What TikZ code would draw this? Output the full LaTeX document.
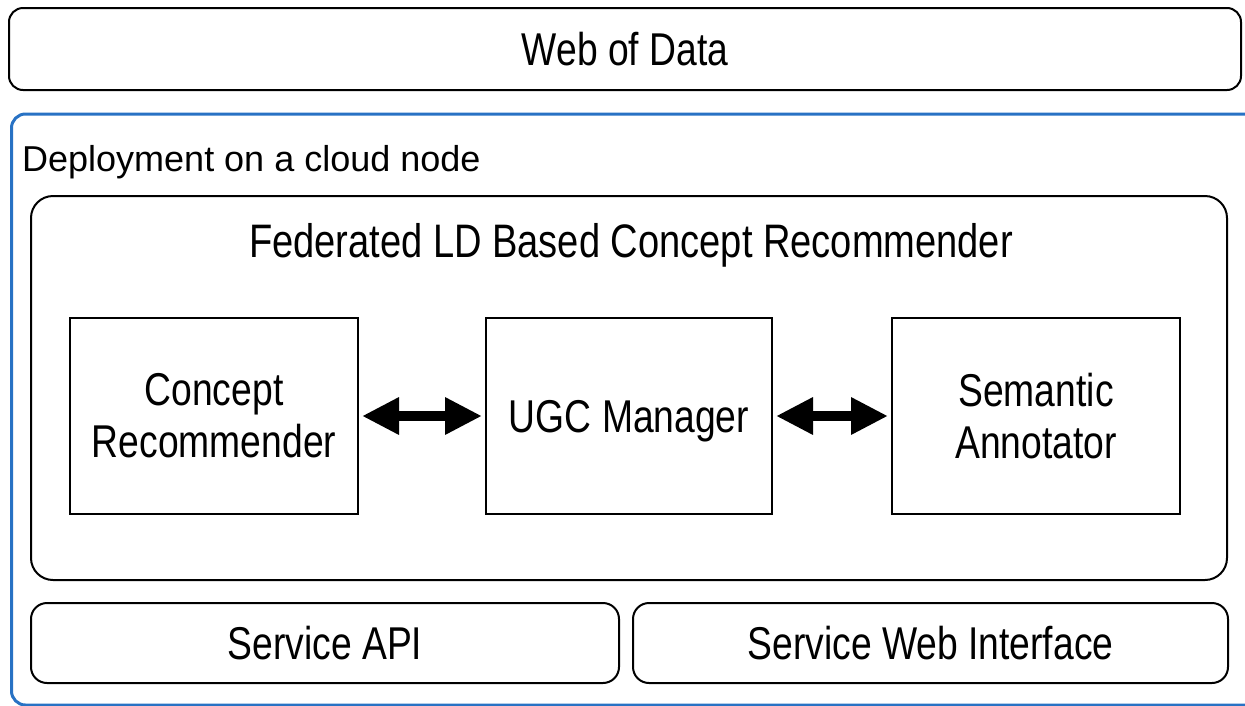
\documentclass[tikz,border=0pt]{standalone}
\usepackage{fontspec}
\setmainfont{Liberation Sans}
\newfontfamily\condfont[FakeStretch=0.81]{Liberation Sans}
\usetikzlibrary{arrows.meta}
\definecolor{cloudblue}{RGB}{40,114,196}
\begin{document}
\begin{tikzpicture}[x=1pt,y=-1pt,
  boxfont/.style={font=\condfont\fontsize{46}{52}\selectfont},
  plainbox/.style={draw=black, line width=2pt, inner sep=0pt, boxfont},
  oneline/.style={plainbox, text height=33pt, text depth=0pt},
  twoline/.style={plainbox, align=center},
  roundbox/.style={oneline, rounded corners=#1},
  cloudbox/.style={draw=cloudblue, line width=3pt, inner sep=0pt, outer sep=0pt, rounded corners=14pt},
  dblarrow/.style={line width=10pt, shorten >=3pt, shorten <=3pt,
    {Triangle[length=37pt,width=35pt]}-{Triangle[length=37pt,width=35pt]}}
]
\useasboundingbox (0,0) rectangle (1245,705);
\clip (0,0) rectangle (1245,705);

\node[roundbox=14pt, minimum width=1232pt, minimum height=82pt] (web) at (625,49) {Web of Data};

\node[cloudbox, minimum width=1270pt, minimum height=591pt] (cloud) at (646.5,409.5) {};
\node[anchor=base west, inner sep=0pt, font=\fontsize{36}{42}\selectfont] (cloudtitle) at (22,171) {Deployment on a cloud node};

\node[plainbox, rounded corners=22pt, minimum width=1196pt, minimum height=384pt] (fed) at (629,388) {};
\node[anchor=base, inner sep=0pt, font=\condfont\fontsize{47}{52}\selectfont] (fedtitle) at (631,257) {Federated LD Based Concept Recommender};

\node[twoline, minimum width=288pt, minimum height=196pt] (cr) at (214,416) {Concept\\Recommender};
\node[oneline, minimum width=286pt, minimum height=196pt] (ugc) at (629,416) {UGC Manager};
\node[twoline, minimum width=288pt, minimum height=196pt] (sa) at (1036,416) {Semantic\\Annotator};

\draw[dblarrow] (cr.east) -- (ugc.west);
\draw[dblarrow] (ugc.east) -- (sa.west);

\node[roundbox=16pt, minimum width=588pt, minimum height=80pt] (api) at (325,643) {Service API};
\node[roundbox=16pt, minimum width=595pt, minimum height=80pt] (swi) at (930.5,643) {Service Web Interface};
\end{tikzpicture}
\end{document}
